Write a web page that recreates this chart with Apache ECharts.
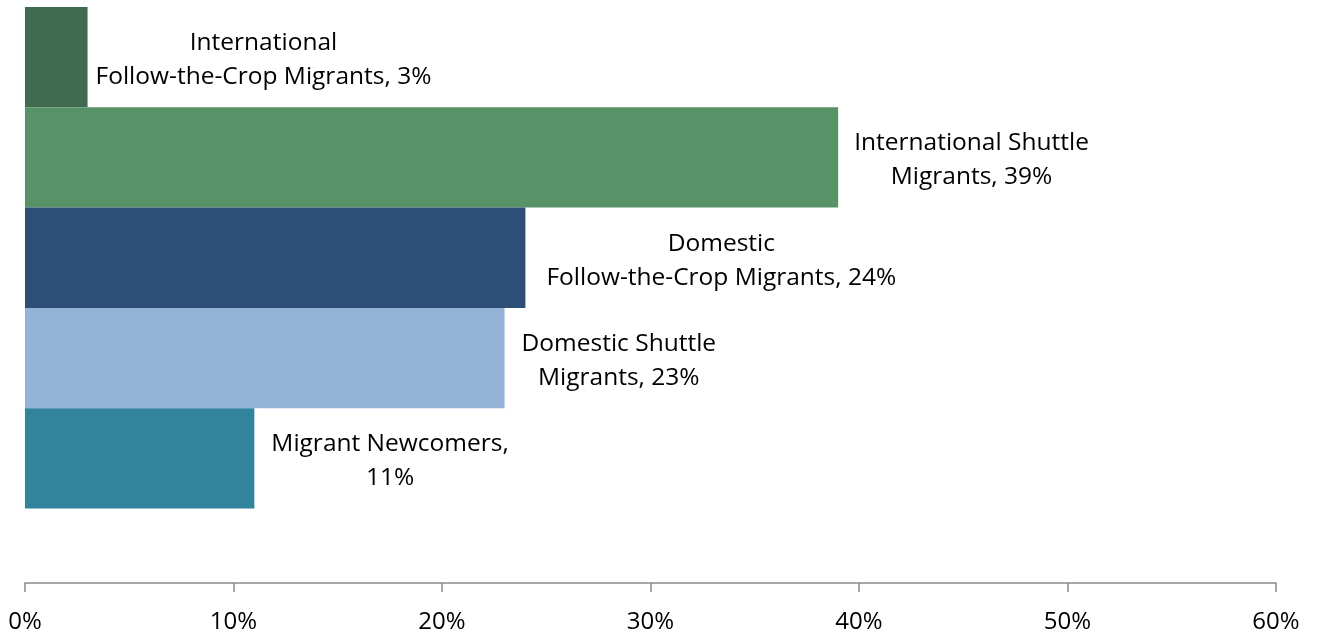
<!DOCTYPE html>
<html>
<head>
<meta charset="utf-8">
<title>Migrant worker types</title>
<script src="https://cdn.jsdelivr.net/npm/echarts@6/dist/echarts.min.js"></script>
<style>
  html, body { margin: 0; padding: 0; background: #ffffff; }
  #chart { width: 1319px; height: 638px; }
</style>
</head>
<body>
<div id="chart"></div>
<script>
// Migrant categories, top to bottom (line breaks as they wrap in the labels)
const categories = [
  'International\nFollow-the-Crop Migrants',
  'International Shuttle\nMigrants',
  'Domestic\nFollow-the-Crop Migrants',
  'Domestic Shuttle\nMigrants',
  'Migrant Newcomers'
];
// Share of migrants in each category (%)
const shares = [3, 39, 24, 23, 11];
// Percentage axis ticks
const axisMin = 0;
const axisMax = 60;
const axisStep = 10;

// Bar fills and label gaps, one per category
const barColors = ['#416b50', '#589368', '#2d4e76', '#95b3d7', '#31849b'];
const labelGaps = [8, 16, 21, 17, 17];

const FONT = '"Open Sans", "Noto Sans", sans-serif';

function labelText(name, value) {
  const text = name.indexOf('\n') >= 0
    ? name + ', ' + value + '%'
    : name + ',\n' + value + '%';
  return text.split('\n').map(line => '{c|' + line + '}').join('\n');
}

const chart = echarts.init(document.getElementById('chart'), null, { renderer: 'canvas' });

chart.setOption({
  animation: false,
  backgroundColor: '#ffffff',
  grid: { left: 25, right: 43, top: 7, bottom: 129.5, containLabel: false },
  xAxis: {
    type: 'value',
    min: axisMin,
    max: axisMax,
    interval: axisStep,
    offset: 74.5,
    axisLine: { show: true, lineStyle: { color: '#8a8a8a', width: 1.5 } },
    axisTick: { show: true, length: 9, inside: false, lineStyle: { color: '#8a8a8a', width: 1.5 } },
    splitLine: { show: false },
    axisLabel: {
      formatter: '{value}%',
      fontFamily: FONT,
      fontSize: 24,
      color: '#000000',
      margin: 27
    }
  },
  yAxis: {
    type: 'category',
    inverse: true,
    data: categories,
    axisLine: { show: false },
    axisTick: { show: false },
    axisLabel: { show: false },
    splitLine: { show: false }
  },
  series: [{
    type: 'bar',
    barCategoryGap: 0,
    data: shares.map((v, i) => ({
      value: v,
      itemStyle: { color: barColors[i] },
      label: { distance: labelGaps[i] }
    })),
    label: {
      show: true,
      position: 'right',
      offset: [0, 3],
      formatter: p => labelText(p.name, p.value),
      rich: {
        c: {
          align: 'center',
          fontFamily: FONT,
          fontSize: 24.5,
          lineHeight: 34,
          color: '#000000'
        }
      }
    }
  }]
});
</script>
</body>
</html>
